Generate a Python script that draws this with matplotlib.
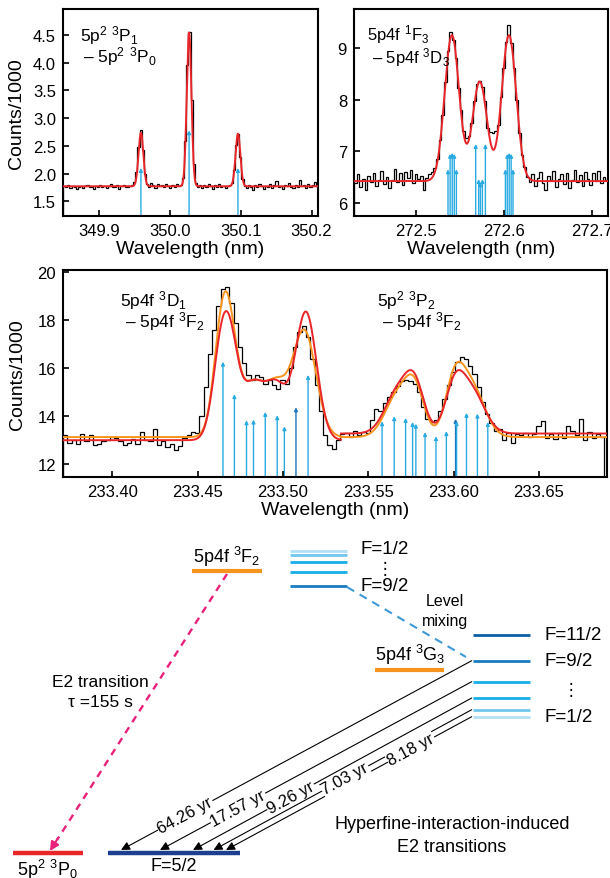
import numpy as np
import matplotlib
matplotlib.use('Agg')
import matplotlib.pyplot as plt

plt.rcParams['font.family'] = ['Liberation Sans', 'DejaVu Sans']
plt.rcParams['mathtext.fontset'] = 'custom'
plt.rcParams['mathtext.rm'] = 'Liberation Sans'
plt.rcParams['mathtext.it'] = 'Liberation Sans:italic'
plt.rcParams['mathtext.bf'] = 'Liberation Sans:bold'

RED = '#e8262a'
ORANGE = '#f7941d'
SKY = '#29abe2'
DEEP = '#1b75bc'
PINK = '#e8217a'

# ─── 5p2 3P1 – 5p2 3P0 (349.8–350.2 nm) ───────────────────────────────────────
a_start, a_bin = 349.849, 0.003
a_counts = [1.78, 1.76, 1.79, 1.74, 1.77, 1.75, 1.72, 1.76, 1.78, 1.74,
            1.77, 1.80, 1.75, 1.76, 1.73, 1.78, 1.76, 1.79, 1.75, 1.77,
            1.74, 1.78, 1.81, 1.76, 1.75, 1.79, 1.73, 1.77, 1.80, 1.76,
            1.75, 1.78, 1.79, 1.84, 2.02, 2.47, 2.78, 2.42, 1.99, 1.82,
            1.76, 1.83, 1.79, 1.74, 1.81, 1.77, 1.80, 1.75, 1.82, 1.78,
            1.74, 1.79, 1.76, 1.81, 1.77, 1.80, 1.92, 2.58, 3.96, 4.55,
            3.33, 2.17, 1.83, 1.76, 1.80, 1.74, 1.79, 1.75, 1.81, 1.77,
            1.73, 1.79, 1.76, 1.82, 1.75, 1.78, 1.74, 1.77, 1.80, 1.83,
            2.06, 2.52, 2.72, 2.30, 1.90, 1.78, 1.74, 1.80, 1.76, 1.71,
            1.79, 1.75, 1.82, 1.77, 1.73, 1.78, 1.76, 1.81, 1.74, 1.79,
            1.86, 1.75, 1.78, 1.73, 1.80, 1.77, 1.83, 1.76, 1.74, 1.79,
            1.75, 1.88, 1.77, 1.80, 1.74, 1.82, 1.76, 1.79, 1.85, 1.77]
a_base = 1.77
a_centers = [349.959, 350.027, 350.096]
a_amps = [0.97, 2.78, 0.95]
a_widths = [0.0034, 0.0033, 0.0034]
a_sticks = [349.959, 350.027, 350.096]
a_tops = [2.10, 2.78, 2.10]

# ─── 5p4f 1F3 – 5p4f 3D3 (272.4–272.7 nm) ─────────────────────────────────────
b_start, b_bin = 272.430, 0.003
b_counts = [6.38, 6.55, 6.30, 6.47, 6.25, 6.52, 6.40, 6.58, 6.33, 6.45,
            6.62, 6.36, 6.50, 6.28, 6.44, 6.66, 6.41, 6.57, 6.35, 6.60,
            6.48, 6.63, 6.39, 6.55, 6.46, 6.52, 6.25, 6.48, 6.55, 6.60,
            6.68, 6.85, 7.22, 7.70, 8.35, 8.95, 9.32, 9.15, 8.80, 8.22,
            7.80, 7.40, 7.25, 7.30, 7.55, 7.98, 8.30, 8.36, 8.25, 7.98,
            7.45, 7.38, 7.35, 7.40, 7.50, 8.05, 8.62, 9.12, 9.45, 9.10,
            8.62, 8.00, 7.35, 6.92, 6.70, 6.50, 6.40, 6.55, 6.33, 6.48,
            6.60, 6.38, 6.25, 6.52, 6.44, 6.62, 6.30, 6.47, 6.55, 6.36,
            6.58, 6.28, 6.45, 6.64, 6.40, 6.53, 6.32, 6.60, 6.46, 6.35,
            6.57, 6.42, 6.62, 6.38, 6.50, 6.45]
b_base = 6.42
b_centers = [272.541, 272.5726, 272.6057]
b_amps = [2.83, 1.93, 2.83]
b_widths = [0.0082, 0.0082, 0.0082]
b_sticks = [272.5366, 272.5390, 272.5414, 272.5437, 272.5461,
            272.5680, 272.5714, 272.5733, 272.5756, 272.5790,
            272.6017, 272.6038, 272.6060, 272.6082, 272.6103]
b_tops = [6.65, 6.95, 6.97, 6.95, 6.65,
          7.14, 6.46, 6.40, 6.46, 7.14,
          6.65, 6.95, 6.97, 6.95, 6.65]

# ─── 5p4f 3D1 – 5p4f 3F2 and 5p2 3P2 – 5p4f 3F2 (233.4–233.7 nm) ──────────────
c_start, c_bin = 233.371, 0.0025
c_counts = [13.20, 12.90, 13.00, 12.85, 13.25, 12.95, 13.20, 12.80, 12.85, 12.95,
            13.00, 13.15, 13.10, 12.95, 12.80, 12.90, 13.05, 12.85, 13.35, 13.00,
            12.95, 13.45, 12.80, 12.95, 12.70, 12.85, 12.60, 12.75, 13.10, 13.20,
            13.35, 13.30, 14.00, 15.20, 16.60, 17.60, 18.60, 19.30, 19.40, 18.70,
            17.90, 16.90, 16.20, 15.70, 15.50, 15.70, 15.65, 15.35, 15.50, 15.30,
            15.15, 15.50, 15.35, 16.00, 16.90, 17.50, 17.75, 17.30, 16.40, 15.30,
            14.20, 13.20, 12.80, 12.65, 13.00, 13.25, 13.30, 13.15, 13.40, 13.20,
            13.35, 13.30, 13.85, 14.30, 14.20, 14.55, 14.80, 15.00, 15.25, 15.45,
            15.50, 15.45, 15.35, 15.00, 14.40, 13.90, 13.75, 13.85, 14.20, 14.70,
            15.30, 15.85, 16.25, 16.45, 16.40, 16.10, 15.75, 15.20, 14.60, 14.10,
            13.70, 13.40, 13.45, 13.00, 13.30, 12.90, 13.25, 13.20, 13.30, 13.15,
            13.25, 13.60, 13.80, 13.10, 13.25, 13.05, 13.30, 13.10, 13.60, 13.40,
            13.20, 13.90, 13.00, 13.35, 13.10, 13.25, 13.15]
c_split = 233.534
red1_base, red1_centers = 13.00, [233.4645, 233.4705, 233.4820, 233.4960, 233.5135]
red1_amps, red1_widths = [4.2, 2.0, 2.2, 2.2, 5.3], [0.0052, 0.0045, 0.0065, 0.0065, 0.0062]
org1_base, org1_centers = 13.13, [233.4648, 233.4705, 233.4820, 233.4960, 233.5125]
org1_amps, org1_widths = [4.95, 1.9, 2.1, 2.05, 4.4], [0.0050, 0.0045, 0.0065, 0.0065, 0.0068]
red2_base, red2_centers = 13.28, [233.5675, 233.5775, 233.6005, 233.6105]
red2_amps, red2_widths = [1.75, 1.75, 1.75, 1.75], [0.0075, 0.0055, 0.0055, 0.0075]
org2_base, org2_centers = 13.13, [233.5675, 233.5775, 233.6005, 233.6105]
org2_amps, org2_widths = [1.73, 1.73, 2.08, 2.08], [0.0075, 0.0055, 0.0055, 0.0075]
c_sticks = [233.4648, 233.4715, 233.4786, 233.4827, 233.4896, 233.4966, 233.5008,
            233.5076, 233.5147, 233.5581, 233.5652, 233.5719, 233.5760, 233.5779,
            233.5833, 233.5897, 233.5958, 233.6012, 233.6018, 233.6076, 233.6140,
            233.6201]
c_tops = [16.27, 14.92, 13.83, 13.86, 14.18, 14.04, 13.58, 14.37, 15.72,
          13.79, 14.00, 13.93, 13.76, 13.69, 13.34, 13.17, 13.38, 13.89, 13.79,
          14.14, 14.11, 13.76]
c_stick_colors = [SKY] * 7 + [DEEP, SKY] + [SKY] * 8 + [DEEP] + [SKY] * 4

# ─── level scheme ──────────────────────────────────────────────────────────────
f2_labels = ['F=1/2', 'F=9/2']
g3_labels = ['F=11/2', 'F=9/2', 'F=1/2']
lifetimes = ['64.26 yr', '17.57 yr', '9.26 yr', '7.03 yr', '8.18 yr']


def gauss_sum(x, base, centers, amps, widths):
    y = np.full_like(x, base)
    for c, a, w in zip(centers, amps, widths):
        y += a * np.exp(-0.5 * ((x - c) / w) ** 2)
    return y


def draw_sticks(ax, xs, tops, colors):
    y0 = ax.get_ylim()[0]
    for x, t, col in zip(xs, tops, colors):
        ax.annotate('', xy=(x, t), xytext=(x, y0),
                    arrowprops=dict(arrowstyle='-|>', color=col, lw=1.0,
                                    mutation_scale=5, shrinkA=0, shrinkB=0),
                    zorder=1)


def style_axes(ax):
    for s in ax.spines.values():
        s.set_linewidth(1.5)
    ax.tick_params(direction='in', length=4, width=1.2, labelsize=12, pad=5,
                   top=False, right=False)
    ax.set_xlabel('Wavelength (nm)', fontsize=14, labelpad=2)


fig = plt.figure(figsize=(6.1, 8.79), dpi=100)

# ─── panel: 350 nm line ───────────────────────────────────────────────────────
ax1 = fig.add_axes([0.1033, 0.7535, 0.418, 0.2352])
ax1.set_xlim(349.849, 350.209)
ax1.set_ylim(1.24, 4.97)
edges = a_start + a_bin * np.arange(len(a_counts) + 1)
draw_sticks(ax1, a_sticks, a_tops, [SKY] * 3)
ax1.stairs(a_counts, edges, color='k', lw=0.9, zorder=2)
xf = np.linspace(349.849, 350.209, 900)
ax1.plot(xf, gauss_sum(xf, a_base, a_centers, a_amps, a_widths), color=RED, lw=1.4, zorder=3)
ax1.set_xticks([349.9, 350.0, 350.1, 350.2])
ax1.set_xticklabels(['349.9', '350.0', '350.1', '350.2'])
ax1.set_yticks([1.5, 2.0, 2.5, 3.0, 3.5, 4.0, 4.5])
ax1.set_yticklabels(['1.5', '2.0', '2.5', '3.0', '3.5', '4.0', '4.5'])
ax1.set_ylabel('Counts/1000', fontsize=14, labelpad=6)
style_axes(ax1)
ax1.text(0.067, 0.874, r'5p$^{2}$ $^{3}$P$_{1}$', transform=ax1.transAxes,
         fontsize=12.5, va='center', ha='left')
ax1.text(0.080, 0.774, r'– 5p$^{2}$ $^{3}$P$_{0}$', transform=ax1.transAxes,
         fontsize=12.5, va='center', ha='left')

# ─── panel: 272 nm line ───────────────────────────────────────────────────────
ax2 = fig.add_axes([0.5803, 0.7535, 0.4164, 0.2352])
ax2.set_xlim(272.430, 272.718)
ax2.set_ylim(5.75, 9.76)
edges = b_start + b_bin * np.arange(len(b_counts) + 1)
draw_sticks(ax2, b_sticks, b_tops, [SKY] * len(b_sticks))
ax2.stairs(b_counts, edges, color='k', lw=0.9, zorder=2)
xf = np.linspace(272.430, 272.718, 900)
ax2.plot(xf, gauss_sum(xf, b_base, b_centers, b_amps, b_widths), color=RED, lw=1.4, zorder=3)
ax2.set_xticks([272.5, 272.6, 272.7])
ax2.set_xticklabels(['272.5', '272.6', '272.7'])
ax2.set_yticks([6, 7, 8, 9])
style_axes(ax2)
ax2.text(0.050, 0.882, r'5p4f $^{1}$F$_{3}$', transform=ax2.transAxes,
         fontsize=12, va='center', ha='left')
ax2.text(0.070, 0.772, r'– 5p4f $^{3}$D$_{3}$', transform=ax2.transAxes,
         fontsize=12, va='center', ha='left')

# ─── panel: 233 nm lines ──────────────────────────────────────────────────────
ax3 = fig.add_axes([0.1033, 0.4565, 0.8918, 0.2355])
ax3.set_xlim(233.371, 233.690)
ax3.set_ylim(11.48, 20.1)
edges = c_start + c_bin * np.arange(len(c_counts) + 1)
draw_sticks(ax3, c_sticks, c_tops, c_stick_colors)
ax3.stairs(c_counts, edges, color='k', lw=0.9, zorder=2)
x_left = np.linspace(233.371, c_split, 700)
x_right = np.linspace(c_split, 233.690, 700)
ax3.plot(x_left, gauss_sum(x_left, org1_base, org1_centers, org1_amps, org1_widths), color=ORANGE, lw=1.4, zorder=3)
ax3.plot(x_left, gauss_sum(x_left, red1_base, red1_centers, red1_amps, red1_widths), color=RED, lw=1.4, zorder=4)
ax3.plot(x_right, gauss_sum(x_right, org2_base, org2_centers, org2_amps, org2_widths), color=ORANGE, lw=1.4, zorder=3)
ax3.plot(x_right, gauss_sum(x_right, red2_base, red2_centers, red2_amps, red2_widths), color=RED, lw=1.4, zorder=4)
ax3.set_xticks([233.40, 233.45, 233.50, 233.55, 233.60, 233.65])
ax3.set_xticklabels(['233.40', '233.45', '233.50', '233.55', '233.60', '233.65'])
ax3.set_yticks([12, 14, 16, 18, 20])
ax3.set_ylabel('Counts/1000', fontsize=14, labelpad=8)
style_axes(ax3)
ax3.text(0.105, 0.858, r'5p4f $^{3}$D$_{1}$', transform=ax3.transAxes,
         fontsize=12.5, va='center', ha='left')
ax3.text(0.114, 0.754, r'– 5p4f $^{3}$F$_{2}$', transform=ax3.transAxes,
         fontsize=12.5, va='center', ha='left')
ax3.text(0.577, 0.858, r'5p$^{2}$ $^{3}$P$_{2}$', transform=ax3.transAxes,
         fontsize=12.5, va='center', ha='left')
ax3.text(0.586, 0.754, r'– 5p4f $^{3}$F$_{2}$', transform=ax3.transAxes,
         fontsize=12.5, va='center', ha='left')

# ─── level scheme (drawn in pixel units of the lower part) ────────────────────
ax4 = fig.add_axes([0, 0, 1, 349 / 879])
ax4.set_xlim(0, 610)
ax4.set_ylim(879, 530)
ax4.axis('off')


def level(x0, x1, y, color, lw=2.0):
    ax4.plot([x0, x1], [y, y], color=color, lw=lw, solid_capstyle='butt')


PALE, LIGHT, CYAN, MID, NAVY = '#b3e0f6', '#72c7ee', '#17aee6', '#1a7cc0', '#0d5fa6'

# 3F2 and its hyperfine structure
level(192, 262, 572.3, ORANGE, lw=3.0)
ax4.text(227, 557, r'5p4f $^{3}$F$_{2}$', fontsize=13, ha='center', va='center')
for y, col in zip([551.7, 555.7, 563.3, 573.3, 587.3], [PALE, LIGHT, CYAN, CYAN, MID]):
    level(290, 347, y, col)
ax4.text(360, 550, f2_labels[0], fontsize=13.5, ha='left', va='center')
ax4.text(385, 569, '⋮', fontsize=12, ha='center', va='center', family=['DejaVu Sans'])
ax4.text(360, 587, f2_labels[1], fontsize=13.5, ha='left', va='center')

# 3G3 and its hyperfine structure
level(375, 444, 671, ORANGE, lw=3.0)
ax4.text(410, 655, r'5p4f $^{3}$G$_{3}$', fontsize=13, ha='center', va='center')
g3_y = [636, 661.7, 682.7, 699, 710.7, 717.7]
for y, col in zip(g3_y, [NAVY, MID, CYAN, CYAN, LIGHT, PALE]):
    level(473, 530, y, col)
ax4.text(545, 636, g3_labels[0], fontsize=13.5, ha='left', va='center')
ax4.text(545, 662, g3_labels[1], fontsize=13.5, ha='left', va='center')
ax4.text(571, 690, '⋮', fontsize=12, ha='center', va='center', family=['DejaVu Sans'])
ax4.text(545, 718, g3_labels[2], fontsize=13.5, ha='left', va='center')

# level mixing
ax4.plot([347, 466], [588, 658], color='#3d9ad8', lw=1.5, ls=(0, (4, 3)))
ax4.text(445, 602, 'Level', fontsize=11.5, ha='center', va='center')
ax4.text(445, 622, 'mixing', fontsize=11.5, ha='center', va='center')

# ground levels
level(13, 83, 854, RED, lw=3.2)
level(108, 240, 854, '#1d3f8f', lw=3.2)
ax4.text(48, 858, r'5p$^{2}$ $^{3}$P$_{0}$', fontsize=13, ha='center', va='top')
ax4.text(174, 858, 'F=5/2', fontsize=13, ha='center', va='top')

# E2 decay of 3F2
ax4.plot([227, 57], [575, 841], color=PINK, lw=1.7, ls=(0, (3, 2.5)))
ax4.annotate('', xy=(50, 852), xytext=(58, 839),
             arrowprops=dict(arrowstyle='-|>', color=PINK, lw=1.5,
                             mutation_scale=13, shrinkA=0, shrinkB=0))
ax4.text(100, 683, 'E2 transition', fontsize=12.5, ha='center', va='center')
ax4.text(100, 703, 'τ =155 s', fontsize=12.5, ha='center', va='center')

# hyperfine-induced E2 decays of 3G3
ends_x = [121, 160, 193, 213.5, 226]
label_t = [0.817, 0.75, 0.65, 0.49, 0.247]
for y0, xe, lab, t in zip(g3_y[1:], ends_x, lifetimes, label_t):
    x0, ye = 471.7, 851
    ax4.annotate('', xy=(xe, ye), xytext=(x0, y0),
                 arrowprops=dict(arrowstyle='-|>', color='k', lw=0.8,
                                 mutation_scale=13, shrinkA=0, shrinkB=0))
    ang = np.degrees(np.arctan2(ye - y0, x0 - xe))
    ax4.text(x0 + t * (xe - x0), y0 + t * (ye - y0), lab, fontsize=12,
             rotation=ang, rotation_mode='anchor', ha='center', va='center',
             bbox=dict(fc='white', ec='none', pad=0.6), zorder=5)

ax4.text(452, 825, 'Hyperfine-interaction-induced', fontsize=13, ha='center', va='center')
ax4.text(452, 848, 'E2 transitions', fontsize=13, ha='center', va='center')

fig.savefig('out.png', dpi=100)
plt.close(fig)
